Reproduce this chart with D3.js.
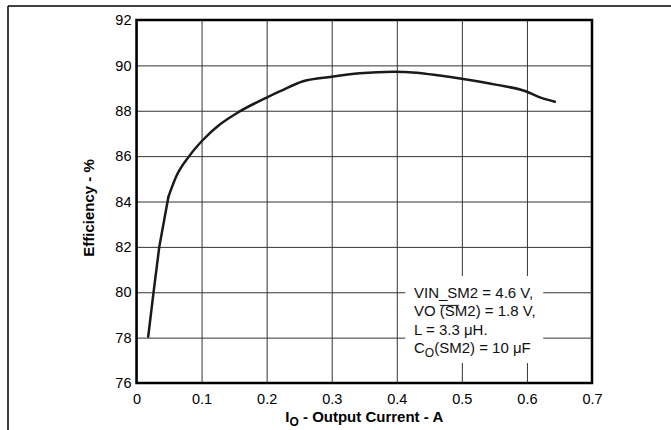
<!DOCTYPE html>
<html>
<head>
<meta charset="utf-8">
<script src="https://cdn.jsdelivr.net/npm/d3@7/dist/d3.min.js"></script>
<style>
  html, body { margin: 0; padding: 0; background: #fff; }
  svg { display: block; font-family: "Liberation Sans", Arial, sans-serif; }
</style>
</head>
<body>
<svg id="chart" width="671" height="430"></svg>
<script>
// Efficiency vs. output current
const currentA = [0.018, 0.026, 0.035, 0.049, 0.061, 0.081, 0.102, 0.127, 0.158, 0.200, 0.22, 0.256, 0.300, 0.343, 0.395, 0.43, 0.466, 0.502, 0.554, 0.597, 0.62, 0.643];
const efficiencyPct = [78.04, 79.95, 82.0, 84.2, 85.1, 86.0, 86.71, 87.37, 87.96, 88.58, 88.85, 89.30, 89.50, 89.65, 89.72, 89.68, 89.55, 89.40, 89.14, 88.87, 88.59, 88.40];
// index of the knee where the steep light-load section ends
const kneeIndex = 3;

const xTicks = [0, 0.1, 0.2, 0.3, 0.4, 0.5, 0.6, 0.7];
const yTicks = [76, 78, 80, 82, 84, 86, 88, 90, 92];

const conditionLines = [
  [{t: "VIN_SM2 = 4.6 V,"}],
  [{t: "VO "}, {t: "(SM", over: true}, {t: "2) = 1.8 V,"}],
  [{t: "L = 3.3 \u03BCH."}],
  [{t: "C"}, {t: "O", sub: true}, {t: "(SM2) = 10 \u03BCF"}]
];

const svg = d3.select("#chart");
const plot = {left: 136.5, top: 20, right: 592, bottom: 383};

const x = d3.scaleLinear().domain([0, 0.7]).range([plot.left, plot.right]);
const y = d3.scaleLinear().domain([76, 92]).range([plot.bottom, plot.top]);

// page frame (top and left rules)
svg.append("line").attr("x1", 8).attr("x2", 671).attr("y1", 6).attr("y2", 6)
  .attr("stroke", "#000").attr("stroke-width", 1.5);
svg.append("line").attr("x1", 8).attr("x2", 8).attr("y1", 6).attr("y2", 430)
  .attr("stroke", "#000").attr("stroke-width", 1.5);

// grid + tick labels
const gx = svg.append("g").attr("transform", `translate(0,${plot.bottom})`)
  .call(d3.axisBottom(x).tickValues(xTicks).tickSize(-(plot.bottom - plot.top))
    .tickPadding(11).tickFormat(d => d === 0 ? "0" : d3.format(".1f")(d)));
const gy = svg.append("g").attr("transform", `translate(${plot.left},0)`)
  .call(d3.axisLeft(y).tickValues(yTicks).tickSize(-(plot.right - plot.left))
    .tickPadding(5).tickFormat(d3.format("d")));
[gx, gy].forEach(g => {
  g.attr("font-size", null).attr("font-family", null);
  g.select(".domain").remove();
  g.selectAll(".tick line").attr("stroke", "#333").attr("stroke-width", 1);
  g.selectAll(".tick text").attr("fill", "#000")
    .style("font-size", "14.5px")
    .style("font-family", "'Liberation Sans', Arial, sans-serif");
});

// conditions box blanks the grid behind it
const box = {x0: 0.413, x1: 0.625, y0: 80.72, y1: 76.88};
svg.append("rect")
  .attr("x", x(box.x0)).attr("y", y(box.y0))
  .attr("width", x(box.x1) - x(box.x0)).attr("height", y(box.y1) - y(box.y0))
  .attr("fill", "#fff");

// plot frame
svg.append("rect")
  .attr("x", plot.left).attr("y", plot.top)
  .attr("width", plot.right - plot.left).attr("height", plot.bottom - plot.top)
  .attr("fill", "none").attr("stroke", "#000").attr("stroke-width", 2.5);

// efficiency curve: straight steep section, then a smooth roll-off
const pts = d3.zip(currentA, efficiencyPct);
const curveStyle = p => p.attr("fill", "none").attr("stroke", "#1a1a1a")
  .attr("stroke-width", 2.5).attr("stroke-linejoin", "round").attr("stroke-linecap", "round");
svg.append("path")
  .datum(pts.slice(0, kneeIndex + 1))
  .attr("d", d3.line().x(d => x(d[0])).y(d => y(d[1])).curve(d3.curveLinear))
  .call(curveStyle);
svg.append("path")
  .datum(pts.slice(kneeIndex))
  .attr("d", d3.line().x(d => x(d[0])).y(d => y(d[1])).curve(d3.curveMonotoneX))
  .call(curveStyle);

// conditions text
const textX = 414, firstBase = 298, lineGap = 18.4;
conditionLines.forEach((parts, i) => {
  const t = svg.append("text").attr("x", textX).attr("y", firstBase + i * lineGap)
    .style("font-size", "15px").attr("fill", "#111");
  let lowered = false;
  parts.forEach(p => {
    const ts = t.append("tspan").text(p.t);
    if (p.sub) { ts.style("font-size", "12px").attr("dy", 4); lowered = true; }
    else if (lowered) { ts.attr("dy", -4); lowered = false; }
    if (p.over) {
      const node = ts.node();
      const n = node.getNumberOfChars();
      const x0 = node.getStartPositionOfChar(0).x;
      const x1 = node.getEndPositionOfChar(Math.min(1, n - 1)).x + 4;
      svg.append("line")
        .attr("x1", x0).attr("x2", x1)
        .attr("y1", firstBase + i * lineGap - 11).attr("y2", firstBase + i * lineGap - 11)
        .attr("stroke", "#111").attr("stroke-width", 1);
    }
  });
});

// axis titles
const xt = svg.append("text")
  .attr("x", (plot.left + plot.right) / 2).attr("y", 421.5)
  .attr("text-anchor", "middle").style("font-size", "15px").attr("font-weight", "bold");
xt.append("tspan").text("I");
xt.append("tspan").text("O").style("font-size", "12px").attr("dy", 4);
xt.append("tspan").text(" - Output Current - A").attr("dy", -4);

svg.append("text")
  .attr("transform", "translate(94,208) rotate(-90)")
  .attr("text-anchor", "middle").style("font-size", "15px").attr("font-weight", "bold")
  .text("Efficiency - %");
</script>
</body>
</html>
